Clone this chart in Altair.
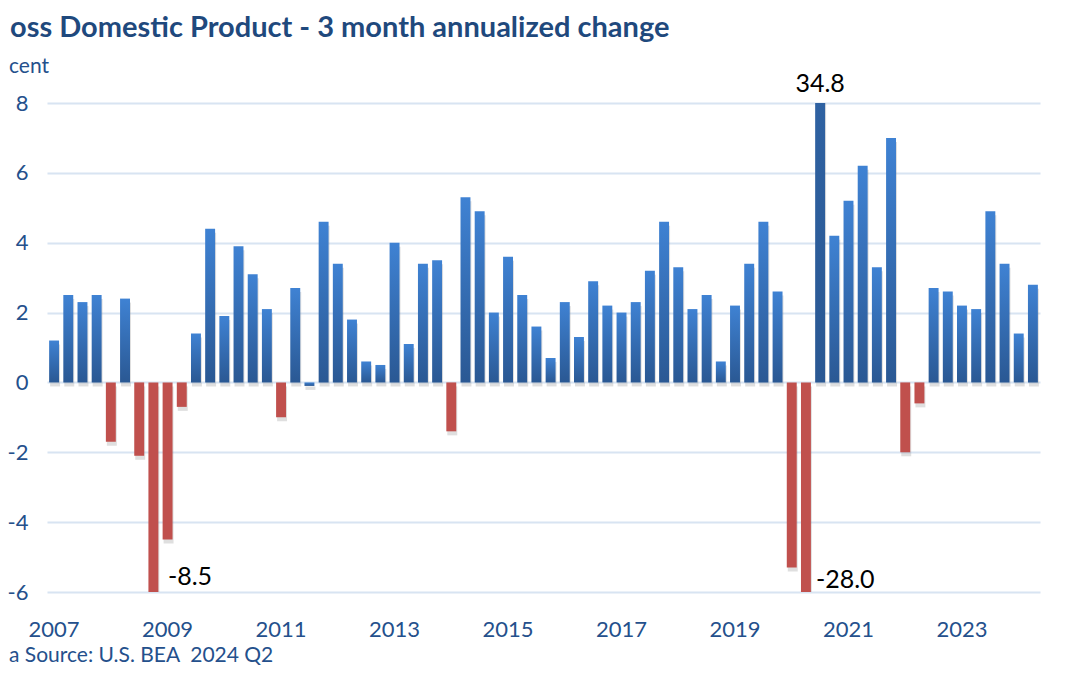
import altair as alt
import pandas as pd

# ---- data ----
years = list(range(2007, 2025))
quarter_names = ["Q1", "Q2", "Q3", "Q4"]
gdp = [
    1.2, 2.5, 2.3, 2.5,      # 2007
    -1.7, 2.4, -2.1, -8.5,   # 2008
    -4.5, -0.7, 1.4, 4.4,    # 2009
    1.9, 3.9, 3.1, 2.1,      # 2010
    -1.0, 2.7, -0.1, 4.6,    # 2011
    3.4, 1.8, 0.6, 0.5,      # 2012
    4.0, 1.1, 3.4, 3.5,      # 2013
    -1.4, 5.3, 4.9, 2.0,     # 2014
    3.6, 2.5, 1.6, 0.7,      # 2015
    2.3, 1.3, 2.9, 2.2,      # 2016
    2.0, 2.3, 3.2, 4.6,      # 2017
    3.3, 2.1, 2.5, 0.6,      # 2018
    2.2, 3.4, 4.6, 2.6,      # 2019
    -5.3, -28.0, 34.8, 4.2,  # 2020
    5.2, 6.2, 3.3, 7.0,      # 2021
    -2.0, -0.6, 2.7, 2.6,    # 2022
    2.2, 2.1, 4.9, 3.4,      # 2023
    1.4, 2.8,                # 2024
]
quarters = [f"{y}{q}" for y in years for q in quarter_names][: len(gdp)]
tick_quarters = [f"{y}Q1" for y in range(2007, 2024, 2)]
y_ticks = [-6, -4, -2, 0, 2, 4, 6, 8]

title_text = "oss Domestic Product - 3 month annualized change"
ytitle_text = "cent"
source_text = "a Source: U.S. BEA\u00a0 2024 Q2"

df = pd.DataFrame({"q": quarters, "v": gdp})

FONT = "Lato"
BLUE_TXT = "#1F497D"
TICK_TXT = "#24508C"

x_axis = alt.Axis(
    values=tick_quarters,
    labelExpr="slice(datum.label, 0, 4)",
    labelAngle=0,
    ticks=False,
    domain=False,
    grid=False,
    labelPadding=27,
    labelFont=FONT,
    labelFontSize=22,
    labelColor=TICK_TXT,
    title=None,
)
y_axis = alt.Axis(
    values=y_ticks,
    labelExpr="toString(datum.value)",
    ticks=False,
    domain=False,
    grid=True,
    gridColor="#D8E4F2",
    gridWidth=2,
    labelPadding=19,
    labelFont=FONT,
    labelFontSize=22,
    labelColor=TICK_TXT,
    title=None,
)
y_scale = alt.Scale(domain=[-6, 8], nice=False, zero=True)

x_enc = alt.X(
    "q:O",
    sort=quarters,
    scale=alt.Scale(paddingInner=0.3, paddingOuter=0.15),
    axis=x_axis,
)
y_enc = alt.Y("v:Q", scale=y_scale, axis=y_axis)
yc_enc = alt.Y("vc:Q", scale=y_scale, axis=y_axis)

base = alt.Chart(df)

shadow = base.mark_bar(color="#808080", opacity=0.25, yOffset=4, xOffset=1, clip=True).encode(
    x=x_enc, y=y_enc
)

blue_grad = alt.Gradient(
    gradient="linear",
    x1=0, x2=0, y1=0, y2=1,
    stops=[
        alt.GradientStop(color="#3F82D3", offset=0),
        alt.GradientStop(color="#2A5893", offset=1),
    ],
)

blue = base.transform_filter("datum.v > -0.3").mark_bar(color=blue_grad, clip=True).encode(
    x=x_enc, y=y_enc
)
red = base.transform_filter("datum.v <= -0.3").mark_bar(color="#C0504D", clip=True).encode(
    x=x_enc, y=y_enc
)


def value_label(quarter, dx, dy, align):
    return (
        base.transform_filter(f"datum.q == '{quarter}'")
        .transform_calculate(
            vc="clamp(datum.v, -6, 8)",
            lbl="(datum.v < 0 ? '-' : '') + format(abs(datum.v), '.1f')",
        )
        .mark_text(
            align=align, baseline="alphabetic", dx=dx, dy=dy,
            font=FONT, fontSize=25, color="black",
        )
        .encode(x=x_enc, y=yc_enc, text="lbl:N")
    )


lab_top = value_label("2020Q3", 0, -11, "center")
lab_gfc = value_label("2008Q4", 14.5, -7, "left")
lab_covid = value_label("2020Q2", 10, -4, "left")

title = alt.Chart(pd.DataFrame({"t": [title_text]})).mark_text(
    align="left", baseline="alphabetic", font=FONT, fontSize=29, fontWeight="bold", color=BLUE_TXT
).encode(x=alt.value(-37), y=alt.value(-66), text="t:N")

ytitle = alt.Chart(pd.DataFrame({"t": [ytitle_text]})).mark_text(
    align="left", baseline="alphabetic", font=FONT, fontSize=21, color=TICK_TXT
).encode(x=alt.value(-38), y=alt.value(-30), text="t:N")

source = alt.Chart(pd.DataFrame({"t": [source_text]})).mark_text(
    align="left", baseline="alphabetic", font=FONT, fontSize=21, color=TICK_TXT
).encode(x=alt.value(-38), y=alt.value(559), text="t:N")

chart = (
    alt.layer(shadow, blue, red, lab_top, lab_gfc, lab_covid, title, ytitle, source)
    .properties(
        width=993,
        height=489,
        padding={"left": 39, "top": 95, "right": 32, "bottom": 75},
        autosize=alt.AutoSizeParams(type="none"),
        background="white",
    )
    .configure_view(stroke=None)
)

chart.save("out.html", embed_options={"renderer": "svg", "actions": False})
